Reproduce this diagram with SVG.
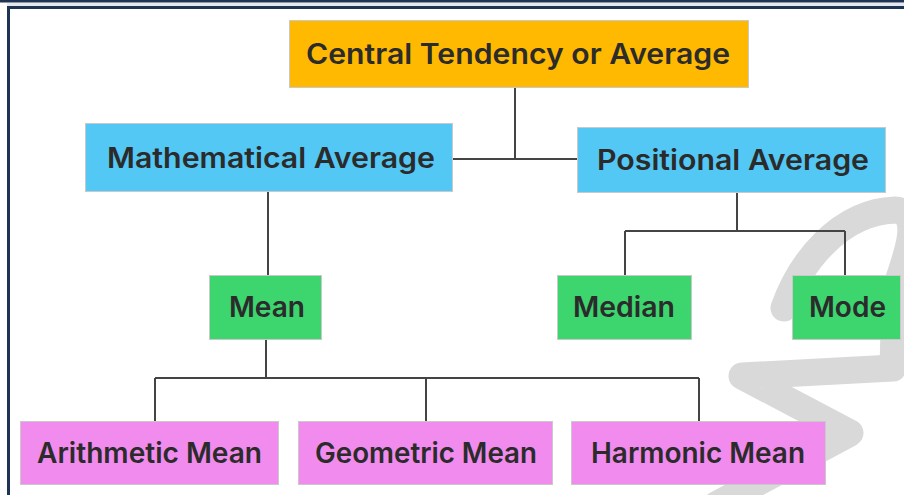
<svg xmlns="http://www.w3.org/2000/svg" width="904" height="495" viewBox="0 0 904 495">
<style>
.box{stroke:#c9c9c9;stroke-width:1}
.t{font-family:Inter,"Noto Sans","Liberation Sans",sans-serif;font-weight:600;font-size:28px;fill:#2b2b2b;text-anchor:middle}
.c{fill:none;stroke:#444;stroke-width:2}
.or{fill:#FFB901}.bl{fill:#53C8F4}.gr{fill:#3DD56E}.pk{fill:#F18CEE}
</style>
<rect x="0" y="0" width="904" height="495" fill="#fff"/>
<rect x="0" y="0" width="904" height="2.5" fill="#1f3354"/>
<rect x="7" y="3" width="897" height="3" fill="#e4e9f0"/>
<line x1="7" y1="7.5" x2="904" y2="7.5" stroke="#1f3354" stroke-width="3"/>
<line x1="8.5" y1="6" x2="8.5" y2="495" stroke="#1f3354" stroke-width="3"/>
<path d="M 784 308 C 800 262, 840 212, 895 210 C 925 212, 905 260, 895 290 L 893 368 L 742 376 L 850 433 L 716 505" fill="none" stroke="#d9d9d9" stroke-width="27" stroke-linejoin="round" stroke-linecap="round"/>
<g id="connectors">
<path class="c" d="M515 88 V159 M452 159 H578"/>
<path class="c" d="M268 192 V275"/>
<path class="c" d="M266 340 V378 M155 378 H699 M155 378 V421 M426 378 V421 M699 378 V421"/>
<path class="c" d="M737 193 V231 M625 231 H845 M625 231 V275 M845 231 V275"/>
</g>
<g id="central"><rect class="box or" x="289.5" y="20.5" width="459" height="67"/><text class="t" x="518" y="64" textLength="424" lengthAdjust="spacingAndGlyphs">Central Tendency or Average</text></g>
<g id="math"><rect class="box bl" x="85.5" y="123.5" width="367" height="68"/><text class="t" x="271" y="168" textLength="328" lengthAdjust="spacingAndGlyphs">Mathematical Average</text></g>
<g id="positional"><rect class="box bl" x="577.5" y="127.5" width="308" height="65"/><text class="t" x="733" y="170" textLength="272" lengthAdjust="spacingAndGlyphs">Positional Average</text></g>
<g id="mean"><rect class="box gr" x="209.5" y="275.5" width="112" height="64"/><text class="t" x="267" y="317" textLength="76" lengthAdjust="spacingAndGlyphs">Mean</text></g>
<g id="median"><rect class="box gr" x="557.5" y="275.5" width="134" height="64"/><text class="t" x="624" y="317" textLength="102" lengthAdjust="spacingAndGlyphs">Median</text></g>
<g id="mode"><rect class="box gr" x="792.5" y="275.5" width="108" height="64"/><text class="t" x="847.5" y="317" textLength="77" lengthAdjust="spacingAndGlyphs">Mode</text></g>
<g id="arith"><rect class="box pk" x="20.5" y="421.5" width="258" height="63"/><text class="t" x="149.5" y="463" textLength="225" lengthAdjust="spacingAndGlyphs">Arithmetic Mean</text></g>
<g id="geo"><rect class="box pk" x="298.5" y="421.5" width="254" height="63"/><text class="t" x="426" y="463" textLength="222" lengthAdjust="spacingAndGlyphs">Geometric Mean</text></g>
<g id="harm"><rect class="box pk" x="571.5" y="421.5" width="254" height="63"/><text class="t" x="698" y="463" textLength="214" lengthAdjust="spacingAndGlyphs">Harmonic Mean</text></g>
</svg>
